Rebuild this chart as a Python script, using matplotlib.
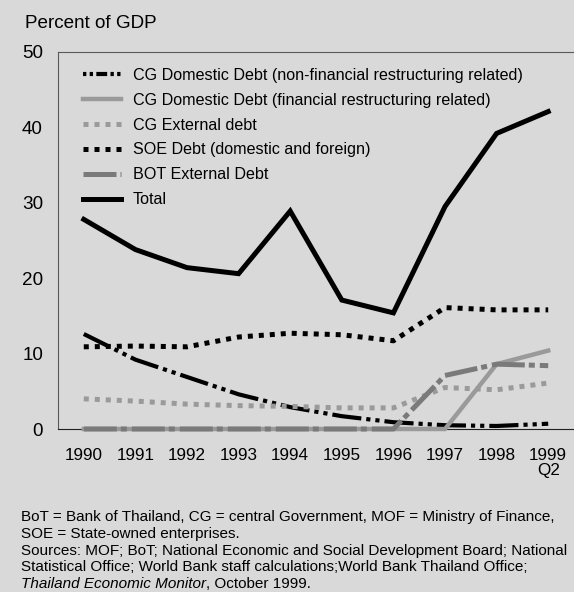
import matplotlib
matplotlib.use("Agg")
import matplotlib.pyplot as plt
from matplotlib.text import Annotation

plt.rcParams['font.family'] = ['Liberation Sans', 'DejaVu Sans']

years = [1990, 1991, 1992, 1993, 1994, 1995, 1996, 1997, 1998, 1999]
xlabels = ['1990', '1991', '1992', '1993', '1994', '1995', '1996', '1997', '1998', '1999\nQ2']

cg_dom_nonfin = [12.6, 9.2, 6.9, 4.6, 2.9, 1.7, 0.9, 0.5, 0.4, 0.7]
cg_dom_fin = [0, 0, 0, 0, 0, 0, 0, 0, 8.6, 10.4]
cg_ext = [4.0, 3.7, 3.3, 3.1, 3.0, 2.8, 2.8, 5.5, 5.2, 6.1]
soe = [10.9, 11.0, 10.9, 12.2, 12.7, 12.5, 11.7, 16.1, 15.8, 15.8]
bot_ext = [0, 0, 0, 0, 0, 0, 0, 7.1, 8.6, 8.4]
total = [27.8, 23.8, 21.4, 20.6, 28.9, 17.1, 15.4, 29.5, 39.2, 42.1]

labels = ['CG Domestic Debt (non-financial restructuring related)',
          'CG Domestic Debt (financial restructuring related)',
          'CG External debt',
          'SOE Debt (domestic and foreign)',
          'BOT External Debt',
          'Total']

bg = '#d9d9d9'
W, H = 574, 592
fig = plt.figure(figsize=(W / 100, H / 100), dpi=100, facecolor=bg)
ax = fig.add_axes([58 / W, 1 - 429 / H, (W - 58) / W, (429 - 52) / H])
ax.set_facecolor(bg)

ax.plot(years, cg_dom_nonfin, color='black', lw=3.0, dashes=(7.0, 1.2, 1.0, 1.2, 1.0, 1.2),
        label=labels[0], clip_on=False)
ax.plot(years, cg_dom_fin, color='#9a9a9a', lw=3.2, label=labels[1], solid_joinstyle='miter',
        clip_on=False)
ax.plot(years, cg_ext, color='#9a9a9a', lw=3.6, dashes=(1.0, 1.2), label=labels[2], clip_on=False)
ax.plot(years, soe, color='black', lw=3.6, dashes=(1.0, 1.2), label=labels[3], clip_on=False)
ax.plot(years, bot_ext, color='#7a7a7a', lw=3.6, dashes=(6.6, 0.8, 1.2, 1.0), label=labels[4],
        clip_on=False)
ax.plot(years, total, color='black', lw=3.6, label=labels[5], solid_joinstyle='miter', clip_on=False)

ax.set_xlim(1989.5, 1999.5)
ax.set_ylim(0, 50)
ax.set_yticks([0, 10, 20, 30, 40, 50])
ax.set_xticks(years)
ax.set_xticklabels(xlabels, fontsize=12.3, linespacing=1.0)
ax.tick_params(axis='y', length=0, pad=10.8, labelsize=13.6)
ax.tick_params(axis='x', length=0, pad=13.5)

for s in ['left', 'top']:
    ax.spines[s].set_color('#5a5a5a')
    ax.spines[s].set_linewidth(0.8)
ax.spines['bottom'].set_color('#202020')
ax.spines['bottom'].set_linewidth(0.8)
ax.spines['right'].set_visible(False)
for s in ax.spines.values():
    s.set_zorder(0.5)

leg = ax.legend(loc='upper left', bbox_to_anchor=((83 - 58) / (W - 58), 1 - (68 - 52) / (429 - 52)),
                frameon=False, fontsize=11.6, handlelength=2.36, handletextpad=0.75,
                labelspacing=0.61, borderaxespad=0, borderpad=0)
leg.get_lines()[0].set_dashes((0.8, 0.8, 0.8, 0.8, 2.6, 0.8, 0.8, 0.8, 0.8, 3.0))

fig.text(25 / W, 1 - 23 / H, 'Percent of GDP', fontsize=13.6, va='center', ha='left')

foot = ['BoT = Bank of Thailand, CG = central Government, MOF = Ministry of Finance,',
        'SOE = State-owned enterprises.',
        'Sources: MOF; BoT; National Economic and Social Development Board; National',
        'Statistical Office; World Bank staff calculations;World Bank Thailand Office;']
centers = [516, 532.5, 549, 565.5]
for t, c in zip(foot, centers):
    fig.text(21 / W, 1 - (c + 5.5) / H, t, fontsize=11, va='baseline', ha='left')
t_it = fig.text(21 / W, 1 - (582 + 5.5) / H, 'Thailand Economic Monitor', fontsize=11,
                va='baseline', ha='left', style='italic')
ann = Annotation(', October 1999.', xy=(1, 0), xycoords=t_it, xytext=(0, 0),
                 textcoords='offset points', fontsize=11, va='bottom', ha='left')
fig.add_artist(ann)

fig.savefig('out.png', dpi=100, facecolor=bg)
